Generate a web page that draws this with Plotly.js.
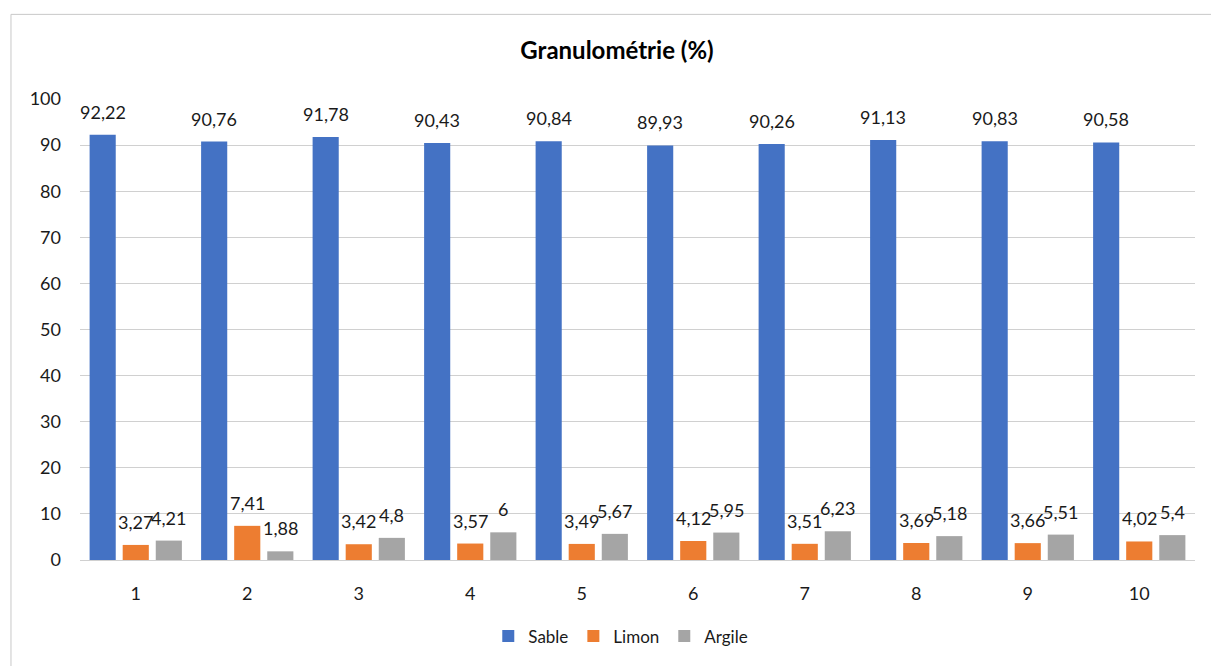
<!DOCTYPE html>
<html>
<head>
<meta charset="utf-8">
<script src="https://cdn.plot.ly/plotly-3.0.1.min.js"></script>
<style>html,body{margin:0;padding:0;background:#fff;}#chart{width:1211px;height:666px;}</style>
</head>
<body>
<div id="chart"></div>
<script>
const categories = ["1","2","3","4","5","6","7","8","9","10"];
const sable = [92.22, 90.76, 91.78, 90.43, 90.84, 89.93, 90.26, 91.13, 90.83, 90.58];
const limon = [3.27, 7.41, 3.42, 3.57, 3.49, 4.12, 3.51, 3.69, 3.66, 4.02];
const argile = [4.21, 1.88, 4.8, 6, 5.67, 5.95, 6.23, 5.18, 5.51, 5.4];
const seriesNames = ["Sable", "Limon", "Argile"];
const colors = ["#4472C4", "#ED7D31", "#A5A5A5"];

const fmt = v => String(v).replace('.', ',');
const FONT = "Lato, 'Open Sans', sans-serif";
const TXT = '#1a1a1a';
const allSeries = [sable, limon, argile];

const traces = allSeries.map((vals, i) => ({
  type: 'bar',
  name: seriesNames[i],
  x: categories,
  y: vals,
  marker: {color: colors[i]},
  hoverinfo: 'none'
}));

// data labels placed above each bar (Excel "outside end" style); x = category index
const annotations = [];
allSeries.forEach((vals, i) => {
  vals.forEach((v, j) => {
    annotations.push({
      x: j, y: v, xref: 'x', yref: 'y',
      text: fmt(v), showarrow: false,
      xanchor: 'center', yanchor: 'middle',
      xshift: (i - 1) * 33, yshift: 23,
      font: {family: FONT, size: 18, color: TXT}
    });
  });
});

const layout = {
  width: 1211, height: 666,
  margin: {l: 80, r: 16, t: 99, b: 104},
  paper_bgcolor: '#fff', plot_bgcolor: '#fff',
  font: {family: FONT, size: 18, color: TXT},
  separators: ', ',
  barmode: 'group',
  bargap: 0.11,
  bargroupgap: 0.21,
  title: {text: '<b>Granulométrie (%)</b>', font: {family: FONT, size: 24, color: '#000'},
          x: 0.5095, xref: 'container', xanchor: 'center', y: 0.924, yref: 'container', yanchor: 'middle'},
  xaxis: {type: 'category', range: [-0.5, 9.5], showgrid: false, showline: true, linecolor: '#d0d0d0', linewidth: 1,
          ticks: '', tickfont: {family: FONT, size: 18, color: TXT}, ticklabelstandoff: 17},
  yaxis: {range: [0, 100], dtick: 10, showgrid: true, gridcolor: '#d0d0d0', gridwidth: 1,
          zeroline: false, showline: false, ticks: '', tickfont: {family: FONT, size: 18, color: TXT},
          ticklabelstandoff: 18},
  showlegend: true,
  legend: {orientation: 'h', x: 0.485, xanchor: 'center', y: -0.166, yanchor: 'middle',
           font: {family: FONT, size: 17, color: TXT}, itemwidth: 30, traceorder: 'normal'},
  annotations: annotations,
  shapes: [{type: 'rect', xref: 'paper', yref: 'paper',
            x0: -0.0619, x1: 1.0888, y0: -0.233, y1: 1.1836,
            line: {color: '#c8c8c8', width: 1}, fillcolor: 'rgba(0,0,0,0)', layer: 'below'}]
};

Plotly.newPlot('chart', traces, layout, {displayModeBar: false, staticPlot: true});
</script>
</body>
</html>
